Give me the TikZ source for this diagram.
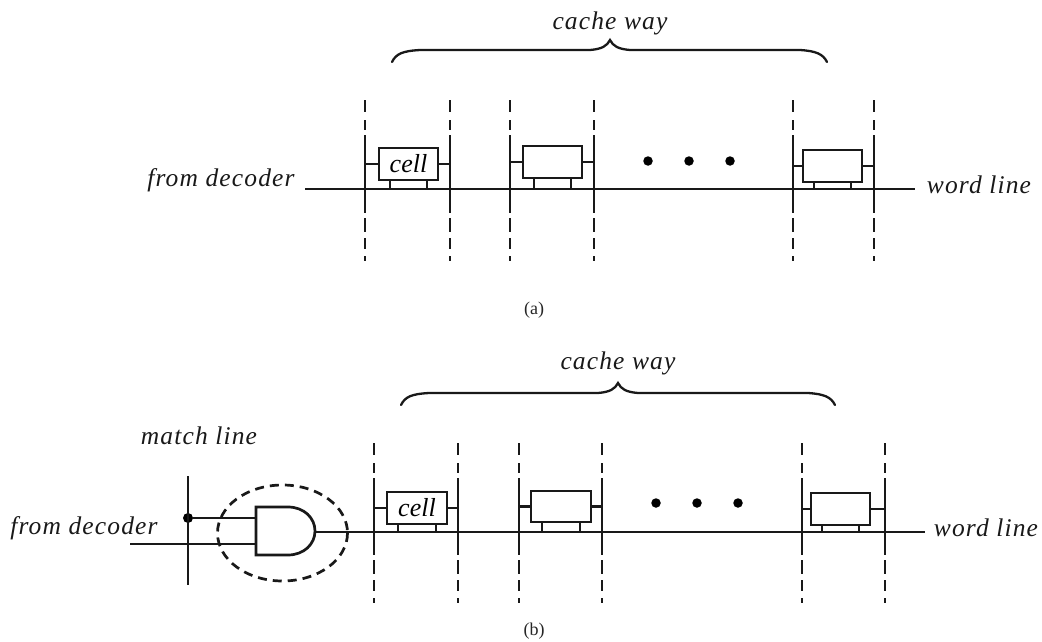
\documentclass[tikz,border=0pt]{standalone}
\usepackage{fontspec}
\setmainfont{Liberation Serif}
\newcommand{\lblfont}{\fontsize{25.5}{30}\selectfont\itshape\addfontfeatures{LetterSpace=4.5}}
\newcommand{\capfont}{\fontsize{18}{20}\selectfont}
\newcommand{\celfont}{\fontsize{26}{28}\selectfont\itshape}
% name, x, y of upper solid start, y of lower solid end, y top, y bottom
\newcommand{\bitline}[6]{%
  \coordinate (#1t) at (#2,#5);
  \coordinate (#1u) at (#2,#3);
  \coordinate (#1l) at (#2,#4);
  \coordinate (#1b) at (#2,#6);
  \draw[wire,dash pattern=on 12pt off 8pt on 10pt off 5pt] (#1t) -- (#1u);
  \draw[wire] (#1u) -- (#1l);
  \draw[wire,dash pattern=on 14pt off 6pt on 11pt off 7pt] ([yshift=-5pt]#1l) -- (#1b);
}
% name, x1,y1,x2,y2, text, left line, right line, word line
\newcommand{\memcell}[9]{%
  \node[cellbox,minimum width=#4pt-#2pt,minimum height=#5pt-#3pt] (#1) at ({(#2+#4)/2},{(#3+#5)/2}) {#6};
  \draw[wire] (#1.west) -- (#7 |- #1.west);
  \draw[wire] (#1.east) -- (#8 |- #1.east);
  \draw[wire] ([xshift=11pt]#1.south west) -- ([xshift=11pt]#1.south west |- #9);
  \draw[wire] ([xshift=-11pt]#1.south east) -- ([xshift=-11pt]#1.south east |- #9);
}
\tikzset{
  wire/.style={line width=2.7pt,draw=black!90},
  cellbox/.style={draw=black!90,line width=2.8pt,inner sep=0pt,outer sep=0pt,fill=white},
  lbl/.style={inner sep=0pt,font=\lblfont,text=black!90},
  capt/.style={inner sep=0pt,font=\capfont,text=black!85},
  dotmark/.style={circle,fill=black,inner sep=0pt,minimum size=9.5pt},
  bracewire/.style={line width=2.3pt,draw=black!90,line cap=round}
}
\begin{document}
\begin{tikzpicture}[x=1pt,y=-1pt]
\useasboundingbox[fill=white] (0,0) rectangle (1042,642);
% ---------- panel a
\coordinate (wa1) at (305,189);
\coordinate (wa2) at (915,189);
\draw[wire] (wa1) -- (wa2);
\bitline{a1}{365}{135}{213}{100}{261}
\bitline{a2}{450}{135}{213}{100}{261}
\bitline{a3}{510}{135}{213}{100}{261}
\bitline{a4}{594}{135}{213}{100}{261}
\bitline{a5}{793}{135}{213}{100}{261}
\bitline{a6}{874}{135}{213}{100}{261}
\memcell{ca1}{379}{148}{438}{180}{\celfont cell}{a1t}{a2t}{wa1}
\memcell{ca2}{523}{146}{582}{178}{}{a3t}{a4t}{wa1}
\memcell{ca3}{803}{150}{862}{182}{}{a5t}{a6t}{wa1}
\node[dotmark] (da1) at (648,161) {};
\node[dotmark] (da2) at (689,161) {};
\node[dotmark] (da3) at (730,161) {};
\draw[bracewire] (392,62) .. controls (396,54) and (402,51) .. (420,50) -- (590,50) .. controls (602,49) and (607,46) .. (610,40) .. controls (613,46) and (618,49) .. (630,50) -- (800,50) .. controls (816,51) and (823,54) .. (827,62);
\node[lbl] (wayA) at (610,23) {cache way};
\node[lbl] (fromA) at (221,180) {from decoder};
\node[lbl] (wordA) at (979,185) {word line};
\node[capt] (capA) at (534,310) {(a)};
% ---------- panel b
\coordinate (wb1) at (315,532);
\coordinate (wb2) at (925,532);
\bitline{b1}{374}{478}{555}{443}{603}
\bitline{b2}{458}{478}{555}{443}{603}
\bitline{b3}{519}{478}{555}{443}{603}
\bitline{b4}{602}{478}{555}{443}{603}
\bitline{b5}{802}{478}{555}{443}{603}
\bitline{b6}{885}{478}{555}{443}{603}
\draw[wire] (wb1) -- (wb2);
\memcell{cb1}{387}{492}{447}{524}{\celfont cell}{b1t}{b2t}{wb1}
\memcell{cb2}{531}{491}{591}{522}{}{b3t}{b4t}{wb1}
\memcell{cb3}{811}{493}{870}{525}{}{b5t}{b6t}{wb1}
\node[dotmark] (db1) at (656,503) {};
\node[dotmark] (db2) at (697,503) {};
\node[dotmark] (db3) at (738,503) {};
\draw[bracewire] (401,405) .. controls (405,397) and (411,394) .. (429,393) -- (598,393) .. controls (610,392) and (615,389) .. (618,383) .. controls (621,389) and (626,392) .. (638,393) -- (808,393) .. controls (824,394) and (831,397) .. (835,405);
\node[lbl] (wayB) at (618,363) {cache way};
\node[lbl] (fromB) at (84,528) {from decoder};
\node[lbl] (wordB) at (986,528) {word line};
\node[lbl] (matchB) at (199,436) {match line};
\node[capt] (capB) at (534,631) {(b)};
% gate
\coordinate (mt) at (188,476);
\coordinate (mb) at (188,585);
\node[circle,fill=black,inner sep=0pt,minimum size=10pt] (md) at (188,518) {};
\coordinate (gi1) at (256,518);
\coordinate (gi2) at (256,544);
\coordinate (di) at (130,544);
\draw[wire] (mt) -- (mb);
\draw[wire] (md) -- (gi1);
\draw[wire] (di) -- (gi2);
\draw[wire,fill=white] (256,507) -- (288,507) .. controls (304,507) and (315,518) .. (315,531) .. controls (315,544) and (304,555) .. (288,555) -- (256,555) -- cycle;
\draw[wire,dash pattern=on 9pt off 6pt] (282.5,533) ellipse [x radius=65,y radius=48];
\end{tikzpicture}
\end{document}
